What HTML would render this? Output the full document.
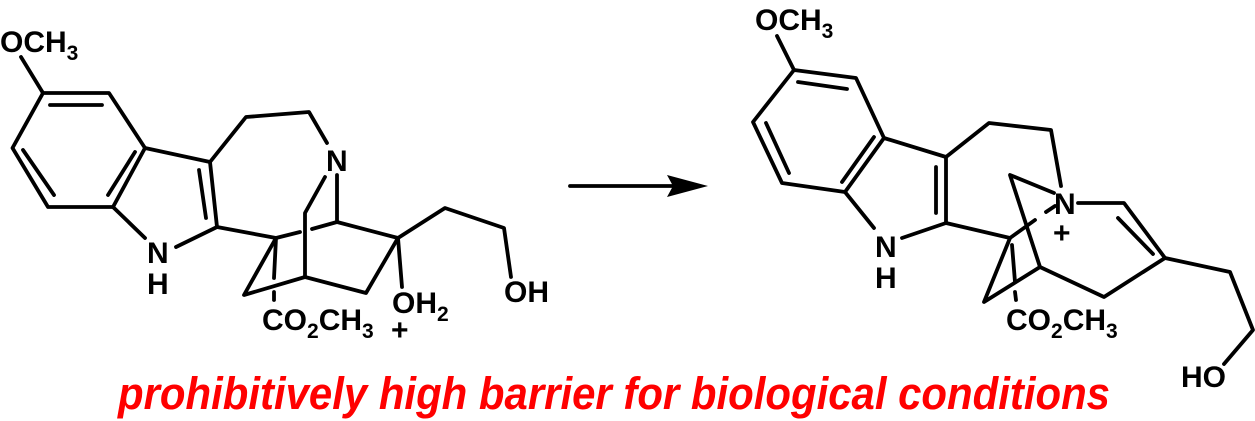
<!DOCTYPE html>
<html><head><meta charset="utf-8"><style>
html,body{margin:0;padding:0;background:#fff;}
svg{display:block;}
text{font-family:"Liberation Sans",sans-serif;font-weight:bold;fill:#000;}
</style></head><body>
<svg width="1255" height="421" viewBox="0 0 1255 421" xmlns="http://www.w3.org/2000/svg">
<g stroke="#000" stroke-width="3.8" fill="none" stroke-linecap="round" stroke-linejoin="round">
<!-- left molecule -->
<line x1="21" y1="57" x2="43" y2="93"/>
<polygon points="43,93 109,93 145,148 113,207 48,207 12.5,148"/>
<line x1="50" y1="105" x2="102" y2="105"/>
<line x1="23" y1="150" x2="54" y2="195"/>
<line x1="135" y1="152" x2="108" y2="195"/>
<line x1="113" y1="207" x2="145" y2="238"/>
<line x1="176" y1="247" x2="217" y2="227"/>
<line x1="145" y1="148" x2="210" y2="162"/>
<line x1="210" y1="162" x2="217" y2="227"/>
<line x1="199" y1="170" x2="206" y2="218"/>
<polyline points="210,162 246,117 309,112 327,143"/>
<line x1="217" y1="227" x2="276" y2="238"/>
<polyline points="276,238 244,295 305,277"/>
<line x1="276" y1="238" x2="274" y2="278"/>
<line x1="274" y1="292" x2="274" y2="300"/>
<line x1="276" y1="238" x2="300" y2="232"/>
<line x1="312" y1="229" x2="337" y2="222"/>
<line x1="337" y1="222" x2="337" y2="175"/>
<polyline points="325,177 305,213 305,277 366,293 398,238 337,222"/>
<line x1="398" y1="238" x2="402" y2="287"/>
<polyline points="398,238 445,208 504,228 511,277"/>
<!-- arrow -->
<line x1="570" y1="186" x2="675" y2="186"/>
<!-- right molecule -->
<line x1="777" y1="36" x2="794" y2="70"/>
<polygon points="794,70 856,78 884,138 845,192 782,183 753,122"/>
<line x1="798" y1="82" x2="847" y2="89"/>
<line x1="766" y1="123" x2="789" y2="173"/>
<line x1="874" y1="137" x2="842" y2="182"/>
<line x1="845" y1="192" x2="874" y2="228"/>
<line x1="902" y1="238" x2="946" y2="223"/>
<line x1="884" y1="138" x2="946" y2="157"/>
<line x1="946" y1="157" x2="946" y2="223"/>
<line x1="936" y1="167" x2="936" y2="213"/>
<polyline points="946,157 989,123 1051,130 1061,186"/>
<line x1="946" y1="223" x2="1010" y2="238"/>
<polyline points="1010,238 984,302 1040,267"/>
<line x1="1012" y1="245" x2="1015" y2="282"/>
<line x1="1015" y1="292" x2="1016" y2="300"/>
<line x1="1010" y1="238" x2="1035" y2="220"/>
<line x1="1046" y1="212" x2="1055" y2="206"/>
<polyline points="1054,193 1010,175 1040,267 1104,297 1165,258"/>
<polyline points="1078,203 1124,203 1165,258"/>
<line x1="1118" y1="218" x2="1153" y2="254"/>
<polyline points="1165,258 1230,272 1253,330 1224,364"/>
</g>
<polygon points="667,175 708,186 667,197 673,186" fill="#000"/>
<g font-size="30">
<text x="0" y="52">OCH<tspan font-size="21" dy="8">3</tspan></text>
<text x="147" y="263">N</text>
<text x="147" y="294">H</text>
<text x="326" y="171">N</text>
<text x="262" y="330">CO<tspan font-size="21" dy="8">2</tspan><tspan dy="-8">CH</tspan><tspan font-size="21" dy="8">3</tspan></text>
<text x="392" y="313">OH<tspan font-size="21" dy="8">2</tspan></text>
<text x="391" y="340">+</text>
<text x="504" y="302">OH</text>
<text x="755" y="30">OCH<tspan font-size="21" dy="8">3</tspan></text>
<text x="875" y="257">N</text>
<text x="875" y="288">H</text>
<text x="1054" y="214">N</text>
<text x="1053" y="243">+</text>
<text x="1006" y="330">CO<tspan font-size="21" dy="8">2</tspan><tspan dy="-8">CH</tspan><tspan font-size="21" dy="8">3</tspan></text>
<text x="1181" y="387">HO</text>
</g>
<text x="118" y="409" font-size="45" font-style="italic" style="fill:#ff0000" textLength="992" lengthAdjust="spacingAndGlyphs">prohibitively high barrier for biological conditions</text>
</svg>
</body></html>
